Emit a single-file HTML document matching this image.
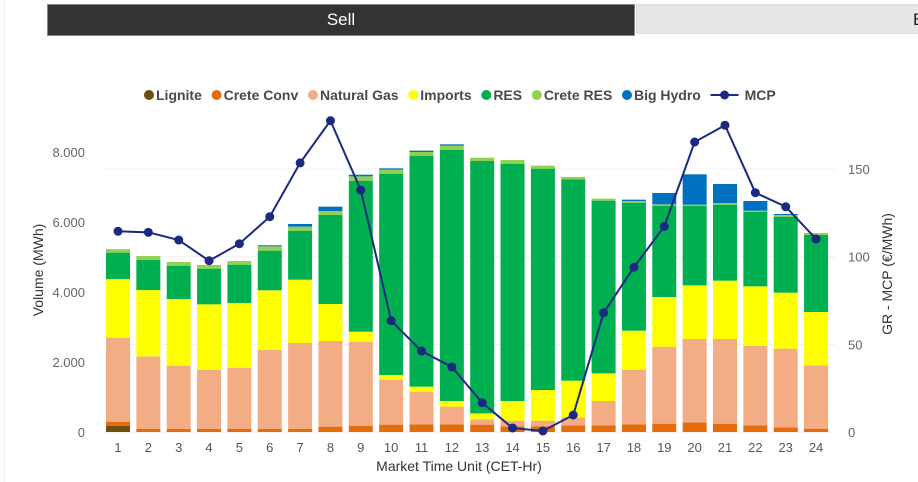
<!DOCTYPE html>
<html><head><meta charset="utf-8"><style>
body{margin:0;background:#fff;font-family:"Liberation Sans",sans-serif;}
#wrap{position:relative;width:918px;height:482px;overflow:hidden;background:#fff;}
</style></head><body>
<div id="wrap">
<div style="position:absolute;left:4px;top:0;width:1px;height:482px;background:#eee"></div>
<div style="position:absolute;left:47px;top:4px;width:586px;height:30px;background:#333;border:1px solid #888;color:#fff;font-size:17px;text-align:center;line-height:30px">Sell</div>
<div style="position:absolute;left:636px;top:4px;width:290px;height:30px;background:#e6e6e6;border:1px solid #ddd;color:#222;font-size:17px;line-height:30px;padding-left:276px;box-sizing:border-box">B</div>
<svg id="chart" width="918" height="482" style="position:absolute;left:0;top:0"></svg>
</div>
<script>
const hours=[1,2,3,4,5,6,7,8,9,10,11,12,13,14,15,16,17,18,19,20,21,22,23,24];
const lignite=[180,0,0,0,0,0,0,0,0,0,0,0,0,0,0,0,0,0,0,0,0,0,0,0];
const creteConv=[115,90,90,90,90,90,90,152,180,210,220,220,210,162,160,190,190,220,238,276,238,190,133,95];
const naturalGas=[2400,2070,1805,1681,1748,2253,2453,2448,2400,1285,932,504,152,162,164,229,696,1551,2200,2381,2419,2267,2248,1810];
const imports=[1675,1895,1905,1877,1848,1705,1809,1057,286,134,143,162,171,562,876,1048,790,1124,1419,1533,1667,1705,1600,1524];
const res=[755,867,952,1019,1095,1133,1400,2543,4314,5752,6600,7181,7210,6781,6324,5752,4934,3657,2610,2267,2171,2124,2171,2200];
const creteRes=[100,105,105,104,105,124,115,114,124,114,105,114,95,104,86,67,57,48,38,38,48,38,48,57];
const bigHydro=[0,0,0,0,0,30,76,124,47,38,38,38,0,0,0,0,0,38,324,867,543,276,29,0];
const mcp=[114.5,113.9,109.5,97.7,107.4,122.8,153.5,177.6,138,63.5,46.2,37.1,16.7,2.3,0.6,9.7,68,94,117.3,165.4,175,136.5,128.5,110.1];
const leftTicks=[0,2000,4000,6000,8000];
const leftTickLabels=["0","2.000","4.000","6.000","8.000"];
const rightTicks=[0,50,100,150];

const series=[["Lignite",lignite,"#6b4f0c"],["Crete Conv",creteConv,"#e46c0a"],["Natural Gas",naturalGas,"#f2ad85"],["Imports",imports,"#ffff00"],["RES",res,"#00b050"],["Crete RES",creteRes,"#92d050"],["Big Hydro",bigHydro,"#0070c0"]];
const svg=document.getElementById('chart');
const NS="http://www.w3.org/2000/svg";
function mk(t,a,txt){const e=document.createElementNS(NS,t);for(const k in a)e.setAttribute(k,a[k]);if(txt!=null)e.textContent=txt;svg.appendChild(e);return e;}
const y0=432;
function yL(v){return y0-v*0.035;}
function yR(v){return y0-v*1.753;}
function xC(i){return 118+i*30.35;}
const bw=24;
rightTicks.forEach(t=>{const g=mk('line',{x1:103,x2:835,y1:yR(t),y2:yR(t),stroke:'#f0f0f0','stroke-width':1});

});
leftTicks.forEach((t,i)=>{const e=mk('text',{x:85,y:yL(t)+5,'text-anchor':'end','font-size':13,fill:'#666'},leftTickLabels[i]);

});
rightTicks.forEach(t=>{const e=mk('text',{x:848,y:yR(t)+5,'font-size':13,fill:'#666'},String(t));

});
hours.forEach((h,i)=>{let c=0;series.forEach(s=>{const v=s[1][i];if(v>0){const r=mk('rect',{x:xC(i)-bw/2,y:yL(c+v),width:bw,height:v*0.035,fill:s[2]});

}c+=v;});
const t=mk('text',{x:xC(i),y:452,'text-anchor':'middle','font-size':13,fill:'#555'},String(h));

});
const pts=mcp.map((v,i)=>xC(i)+','+yR(v)).join(' ');
const pl=mk('polyline',{points:pts,fill:'none',stroke:'#1b2a80','stroke-width':2});


mcp.forEach((v,i)=>{const c=mk('circle',{cx:xC(i),cy:yR(v),r:4.5,fill:'#1b2a80'});

});
let e=mk('text',{x:459,y:471,'text-anchor':'middle','font-size':14,fill:'#333'},'Market Time Unit (CET-Hr)');


e=mk('text',{x:0,y:0,'text-anchor':'middle','font-size':14,fill:'#333',transform:'translate(43,270) rotate(-90)'},'Volume (MWh)');


e=mk('text',{x:0,y:0,'text-anchor':'middle','font-size':14,fill:'#333',transform:'translate(892,274) rotate(-90)'},'GR - MCP (€/MWh)');


let lx=144;
series.forEach(s=>{const c=mk('circle',{cx:lx+5,cy:95,r:5,fill:s[2]});


const t=mk('text',{x:lx+12,y:100,'font-size':14,'font-weight':'bold',fill:'#4a4a4a'},s[0]);


lx+=12+t.getComputedTextLength()+9.7;});
const ll=mk('line',{x1:lx,x2:lx+28,y1:95,y2:95,stroke:'#1b2a80','stroke-width':2});


const lc=mk('circle',{cx:lx+14,cy:95,r:4.5,fill:'#1b2a80'});


const lt=mk('text',{x:lx+34,y:100,'font-size':14,'font-weight':'bold',fill:'#4a4a4a'},'MCP');


</script>
</body></html>
